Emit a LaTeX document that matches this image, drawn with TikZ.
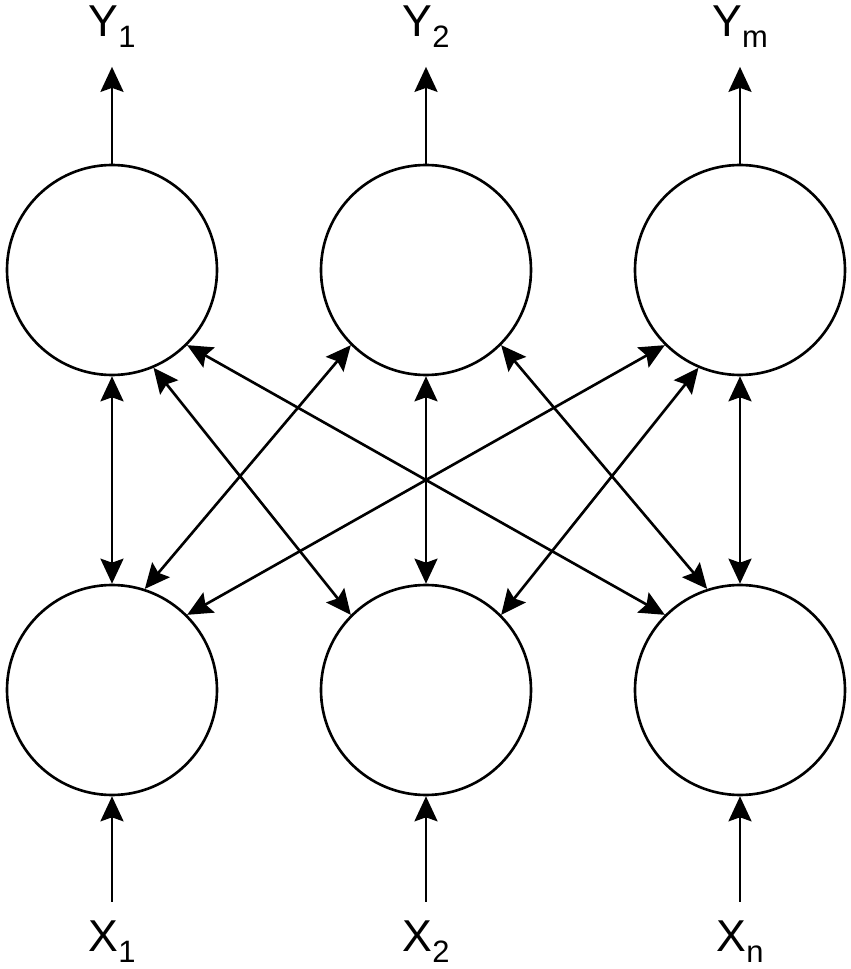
\documentclass[tikz,border=0pt]{standalone}
\usepackage{fontspec}
\setmainfont{Liberation Sans}
\usetikzlibrary{arrows.meta}
\newcommand\lblsub[1]{\raisebox{-3pt}{\fontsize{8.8}{10}\selectfont #1}}

\begin{document}
\begin{tikzpicture}[line width=0.75pt,
    >={Stealth[length=2.5mm, width=2.3mm, inset=0.4mm]},
    neuron/.style={circle, draw, minimum size=2.1cm, inner sep=0pt},
    lbl/.style={inner sep=1.8mm, font=\fontsize{12.7}{14}\selectfont}]
    \useasboundingbox (0,0) rectangle (8.51,9.69);
    % upper and lower layer
    \node[neuron] (top1) at (1.12,6.99) {};
    \node[neuron] (top2) at (4.26,6.99) {};
    \node[neuron] (top3) at (7.40,6.99) {};
    \node[neuron] (bot1) at (1.12,2.79) {};
    \node[neuron] (bot2) at (4.26,2.79) {};
    \node[neuron] (bot3) at (7.40,2.79) {};
    % outputs and inputs
    \node[lbl, anchor=base] (y1) at (1.12,9.32) {Y\lblsub{1}};
    \node[lbl, anchor=base] (y2) at (4.26,9.32) {Y\lblsub{2}};
    \node[lbl, anchor=base] (ym) at (7.40,9.32) {Y\lblsub{m}};
    \node[lbl, anchor=base] (x1) at (1.12,0.17) {X\lblsub{1}};
    \node[lbl, anchor=base] (x2) at (4.26,0.17) {X\lblsub{2}};
    \node[lbl, anchor=base] (xn) at (7.40,0.17) {X\lblsub{n}};
    \draw[->] (top1) -- (y1);
    \draw[->] (top2) -- (y2);
    \draw[->] (top3) -- (ym);
    \draw[->] (x1) -- (bot1);
    \draw[->] (x2) -- (bot2);
    \draw[->] (xn) -- (bot3);
    % every pair of the two layers
    \draw[<->] (top1.south) -- (bot1.north);
    \draw[<->] (top2.south) -- (bot2.north);
    \draw[<->] (top3.south) -- (bot3.north);
    \draw[<->] (top1.-67) -- (bot2.135);
    \draw[<->] (top1.-45) -- (bot3.135);
    \draw[<->] (top2.-135) -- (bot1.72);
    \draw[<->] (top2.-45) -- (bot3.108);
    \draw[<->] (top3.-135) -- (bot1.45);
    \draw[<->] (top3.-113) -- (bot2.45);
\end{tikzpicture}
\end{document}
